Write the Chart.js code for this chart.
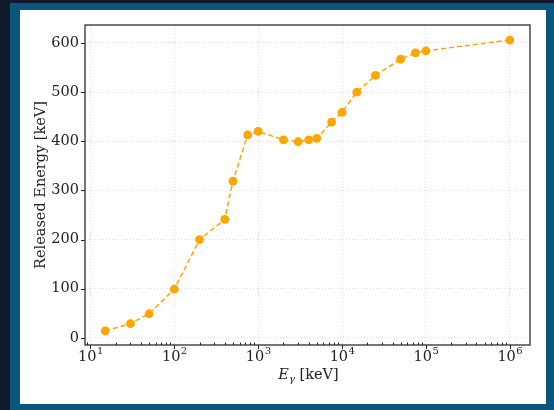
<!DOCTYPE html>
<html>
<head>
<meta charset="utf-8">
<script src="https://cdn.jsdelivr.net/npm/chart.js@4"></script>
<style>
  html, body { margin: 0; padding: 0; background: #0f1b2b; }
  #wrap { width: 554px; height: 410px; }
</style>
</head>
<body>
<div id="wrap"><canvas id="releaseChart" width="554" height="410"></canvas></div>
<script>
// photon energy [keV] and released energy [keV]
const energies = [15, 30, 50, 100, 200, 400, 500, 750, 1000, 2000, 3000, 4000, 5000, 7500,
  10000, 15000, 25000, 50000, 75000, 100000, 1000000];
const released = [14, 29, 49, 99, 200, 241, 319, 413, 420, 403, 399, 403, 406, 439,
  459, 500, 534, 567, 580, 584, 606];
const yTicks = [0, 100, 200, 300, 400, 500, 600];
const decades = [1, 2, 3, 4, 5, 6];

const SERIF = "'DejaVu Serif', serif";

// frame colours behind the white panel
const backdrop = {
  id: 'backdrop',
  beforeDraw(chart) {
    const c = chart.ctx;
    c.save();
    c.fillStyle = '#0f1b2b';
    c.fillRect(0, 0, 554, 410);
    c.fillStyle = '#0a577b';
    c.fillRect(10, 3, 544, 407);
    c.fillStyle = '#ffffff';
    c.fillRect(20, 10, 526, 394);
    c.restore();
  }
};

// box round the plot, matplotlib style ticks, 10^n labels and the x title
const frame = {
  id: 'frame',
  afterDraw(chart) {
    const c = chart.ctx;
    const a = chart.chartArea;
    const xs = chart.scales.x, ys = chart.scales.y;
    c.save();
    c.strokeStyle = '#3c3c3c';
    c.lineWidth = 1.4;
    c.strokeRect(a.left, a.top, a.right - a.left, a.bottom - a.top);

    c.lineWidth = 1;
    c.strokeStyle = '#222';
    c.beginPath();
    xs.ticks.forEach(t => {
      const px = Math.round(xs.getPixelForValue(t.value)) + 0.5;
      if (t.major) {
        c.moveTo(px, a.bottom);
        c.lineTo(px, a.bottom + 4);
      } else {
        c.moveTo(px, a.bottom);
        c.lineTo(px, a.bottom - 2.5);
      }
    });
    ys.ticks.forEach(t => {
      const py = Math.round(ys.getPixelForValue(t.value)) + 0.5;
      c.moveTo(a.left, py);
      c.lineTo(a.left - 4, py);
    });
    c.stroke();

    // decade labels with a raised exponent
    c.fillStyle = '#222';
    c.textBaseline = 'alphabetic';
    c.textAlign = 'left';
    decades.forEach(d => {
      const px = xs.getPixelForValue(Math.pow(10, d));
      c.font = '14.5px ' + SERIF;
      const wB = c.measureText('10').width;
      c.font = '10px ' + SERIF;
      const wS = c.measureText(String(d)).width;
      const x0 = px - (wB + wS) / 2;
      c.font = '14.5px ' + SERIF;
      c.fillText('10', x0, a.bottom + 16);
      c.font = '10px ' + SERIF;
      c.fillText(String(d), x0 + wB + 0.5, a.bottom + 9);
    });

    // x title: italic E with gamma subscript
    const cx = (a.left + a.right) / 2 + 1;
    const ty = 379;
    c.font = 'italic 14.5px ' + SERIF;
    const wE = c.measureText('E').width;
    c.font = 'italic 10px ' + SERIF;
    const wG = c.measureText('γ').width;
    c.font = '14.5px ' + SERIF;
    const wR = c.measureText(' [keV]').width;
    const x0 = cx - (wE + wG + wR) / 2;
    c.font = 'italic 14.5px ' + SERIF;
    c.fillText('E', x0, ty);
    c.font = 'italic 10px ' + SERIF;
    c.fillText('γ', x0 + wE, ty + 3);
    c.font = '14.5px ' + SERIF;
    c.fillText(' [keV]', x0 + wE + wG, ty);
    c.restore();
  }
};

const isDecade = v => decades.some(d => Math.abs(v - Math.pow(10, d)) < 1e-6 * v);

new Chart(document.getElementById('releaseChart').getContext('2d'), {
  type: 'line',
  data: {
    datasets: [{
      label: 'Released Energy',
      data: energies.map((e, i) => ({ x: e, y: released[i] })),
      borderColor: '#ffa500',
      backgroundColor: '#ffa500',
      borderWidth: 1.5,
      borderDash: [5, 3],
      pointRadius: 4.4,
      pointBorderWidth: 0,
      pointHoverRadius: 4.4,
      tension: 0,
    }],
  },
  options: {
    responsive: false,
    animation: false,
    events: [],
    layout: { padding: { left: 0, top: 25, right: 24, bottom: 0 } },
    plugins: { legend: { display: false }, tooltip: { enabled: false } },
    scales: {
      x: {
        type: 'logarithmic',
        min: Math.pow(10, 0.935),
        max: Math.pow(10, 6.241),
        afterBuildTicks(scale) {
          const t = [];
          [0].concat(decades).forEach(d => {
            for (let k = 1; k <= 9; k++) {
              const v = k * Math.pow(10, d);
              if (v >= scale.min && v <= scale.max) t.push({ value: v, major: k === 1 });
            }
          });
          scale.ticks = t;
        },
        afterFit(scale) { scale.height = 65; },
        ticks: {
          autoSkip: false,
          maxRotation: 0,
          callback: () => '',
        },
        grid: {
          drawTicks: false,
          lineWidth: 0.8,
          color: c => (c.tick && isDecade(c.tick.value)) ? '#d9d9d9' : 'rgba(0,0,0,0)',
        },
        border: { display: false, dash: [1, 2] },
      },
      y: {
        min: -14.6,
        max: 636.6,
        afterBuildTicks(scale) { scale.ticks = yTicks.map(v => ({ value: v })); },
        afterFit(scale) { scale.width = 85; },
        ticks: {
          padding: 6,
          color: '#222',
          font: { family: SERIF, size: 14.5 },
        },
        grid: { drawTicks: false, lineWidth: 0.8, color: '#d9d9d9' },
        border: { display: false, dash: [1, 2] },
        title: {
          display: true,
          text: 'Released Energy [keV]',
          color: '#222',
          font: { family: SERIF, size: 14.5 },
          padding: { top: 33, bottom: 0 },
        },
      },
    },
  },
  plugins: [backdrop, frame],
});
</script>
</body>
</html>
